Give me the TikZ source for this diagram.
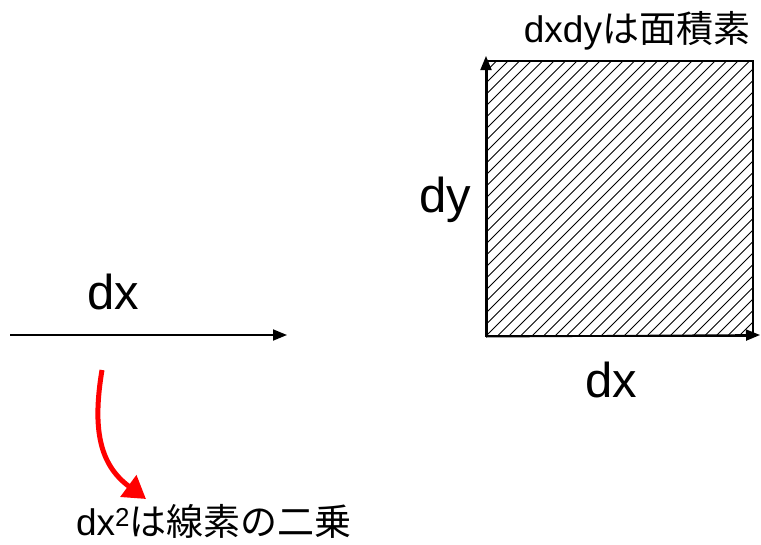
\documentclass[tikz,border=0pt]{standalone}
\usepackage{fontspec}
\setmainfont{Liberation Sans}
\newfontfamily\cjk{Noto Sans CJK JP}
\usetikzlibrary{arrows.meta}
\tikzset{
  axisarrow/.style={line width=1.8pt,-{Triangle[length=14pt,width=11pt]}},
  biglabel/.style={font=\fontsize{49}{52}\selectfont,inner sep=0pt},
  smalllabel/.style={font=\fontsize{37}{40}\selectfont,inner sep=0pt},
  hatchline/.style={line width=1pt},
  redarrow/.style={red,line width=5pt,-{Triangle[length=22pt,width=26pt]}}
}
\begin{document}
\begin{tikzpicture}[x=1pt,y=-1pt]
  \useasboundingbox (0,0) rectangle (761,544);
  % area element: hatched square
  \node[draw,line width=1.6pt,minimum width=266pt,minimum height=275pt,inner sep=0pt,anchor=north west] (sq) at (486,60) {};
  \begin{scope}
    \clip (sq.south west) rectangle (sq.north east);
    \foreach \c in {546,557.5,...,1100} {
      \draw[hatchline] (\c-340,340) -- (\c-55,55);
    }
  \end{scope}
  \coordinate (ytip) at (486,56);
  \coordinate (xtip) at (760,335);
  \draw[axisarrow] (sq.south west) -- (ytip);
  \draw[axisarrow] (sq.south west) -- (xtip);
  \node[smalllabel] (title) at (637,31) {dxdy{\cjk は面積素}};
  \node[biglabel] (dylab) at (445,200) {dy};
  \node[biglabel] (dxlab2) at (611,380) {dx};
  % line element
  \coordinate (ls) at (10,335);
  \coordinate (le) at (287,335);
  \draw[axisarrow] (ls) -- (le);
  \node[biglabel] (dxlab1) at (113,292) {dx};
  \node[smalllabel] (note) at (214,521) {dx\textsuperscript{2}{\cjk は線素の二乗}};
  \coordinate (rs) at (102,370);
  \coordinate (re) at (146,499);
  \draw[redarrow] (rs) .. controls (92,430) and (100,465) .. (re);
\end{tikzpicture}
\end{document}
